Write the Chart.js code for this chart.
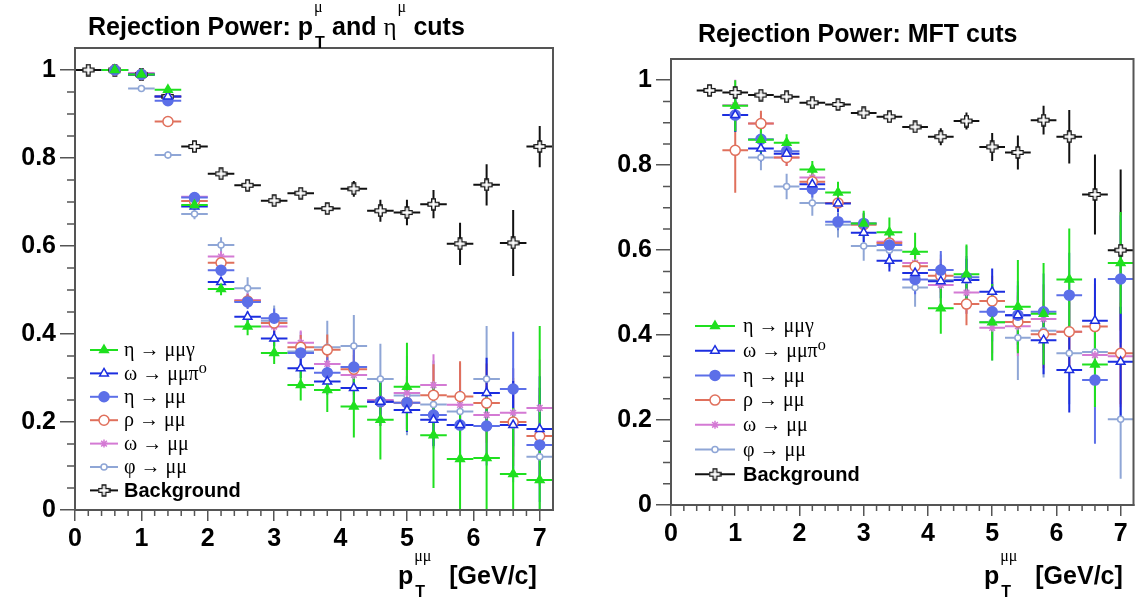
<!DOCTYPE html>
<html>
<head>
<meta charset="utf-8">
<script src="https://cdn.jsdelivr.net/npm/chart.js@4.4.1/dist/chart.umd.min.js"></script>
<style>
  body { margin: 0; background: #fff; width: 1141px; height: 600px; position: relative; overflow: hidden;
         font-family: "Liberation Sans", Arial, sans-serif; }
  canvas { position: absolute; top: 0; }
  .txt { position: absolute; font-weight: bold; font-size: 25px; line-height: 30px; color: #000; white-space: nowrap; }
  .gr { font-family: "Liberation Serif", "DejaVu Serif", serif; font-weight: normal; }
  .stk { display: inline-block; position: relative; height: 0; vertical-align: baseline; }
  .stk .up { position: absolute; left: 1px; bottom: 20px; font-family: "Liberation Serif", serif; font-weight: normal; font-size: 16px; line-height: 1; }
  .stk .dn { position: absolute; left: 2px; top: 0px; font-size: 16px; line-height: 1; }
</style>
</head>
<body>
<canvas id="left" width="570" height="600" style="left:0"></canvas>
<canvas id="right" width="571" height="600" style="left:570px"></canvas>

<div class="txt" style="left:88px; top:11px">Rejection Power: p<span class="stk" style="width:12px"><span class="up">μ</span><span class="dn">T</span></span> and <span class="gr">η</span><span class="stk" style="width:10px"><span class="up">μ</span></span> cuts</div>
<div class="txt" style="left:698px; top:18px">Rejection Power: MFT cuts</div>

<div class="txt" style="left:398px; top:560px">p<span class="stk" style="width:22px"><span class="up">μμ</span><span class="dn">T</span></span><span style="margin-left:14px">[GeV/c]</span></div>
<div class="txt" style="left:984px; top:560px">p<span class="stk" style="width:22px"><span class="up">μμ</span><span class="dn">T</span></span><span style="margin-left:14px">[GeV/c]</span></div>

<script>
// bin centres (half width 0.2)
const X_LEFT = [0.2, 0.6, 1.0, 1.4, 1.8, 2.2, 2.6, 3.0, 3.4, 3.8, 4.2, 4.6, 5.0, 5.4, 5.8, 6.2, 6.6, 7.0];
const X_RIGHT = [0.6, 1.0, 1.4, 1.8, 2.2, 2.6, 3.0, 3.4, 3.8, 4.2, 4.6, 5.0, 5.4, 5.8, 6.2, 6.6, 7.0];
const BIN_HALF = 0.2;

const X_TICKS = [0, 1, 2, 3, 4, 5, 6, 7];
const Y_TICKS = [0, 0.2, 0.4, 0.6, 0.8, 1.0];
const Y_TICK_LABELS = ['0', '0.2', '0.4', '0.6', '0.8', '1'];

const LABELS = ['η → μμγ', 'ω → μμπ⁰', 'η → μμ', 'ρ → μμ', 'ω → μμ', 'φ → μμ', 'Background'];

// left panel: pT and eta cuts
const L_etaG     = [null, 1.0, 0.99, 0.955, 0.693, 0.502, 0.417, 0.357, 0.284, 0.273, 0.235, 0.205, 0.28, 0.17, 0.116, 0.118, 0.082, 0.068];
const L_etaG_e   = [null, 0.002, 0.004, 0.006, 0.01, 0.014, 0.02, 0.025, 0.035, 0.05, 0.07, 0.09, 0.1, 0.12, 0.13, 0.14, 0.15, 0.35];
const L_omPi     = [null, 1.0, 0.99, 0.94, 0.69, 0.518, 0.439, 0.39, 0.322, 0.292, 0.277, 0.246, 0.227, 0.205, 0.193, 0.266, 0.193, 0.184];
const L_omPi_e   = [null, 0.002, 0.003, 0.004, 0.006, 0.01, 0.012, 0.018, 0.022, 0.03, 0.035, 0.045, 0.05, 0.06, 0.07, 0.08, 0.1, 0.12];
const L_etaMM    = [null, 1.0, 0.99, 0.93, 0.71, 0.545, 0.473, 0.436, 0.357, 0.312, 0.325, 0.246, 0.244, 0.216, 0.193, 0.191, 0.275, 0.148];
const L_etaMM_e  = [null, 0.002, 0.004, 0.005, 0.008, 0.012, 0.016, 0.022, 0.028, 0.035, 0.045, 0.055, 0.06, 0.07, 0.08, 0.09, 0.13, 0.13];
const L_rho      = [null, 1.0, 0.99, 0.883, 0.702, 0.562, 0.475, 0.425, 0.37, 0.364, 0.32, 0.246, 0.244, 0.261, 0.258, 0.243, 0.2, 0.168];
const L_rho_e    = [null, 0.002, 0.004, 0.006, 0.008, 0.012, 0.016, 0.022, 0.028, 0.035, 0.045, 0.055, 0.06, 0.07, 0.08, 0.09, 0.1, 0.11];
const L_omMM     = [null, 1.0, 0.993, 0.94, 0.712, 0.576, 0.477, 0.417, 0.38, 0.332, 0.307, 0.25, 0.266, 0.284, 0.239, 0.216, 0.221, 0.232];
const L_omMM_e   = [null, 0.002, 0.004, 0.006, 0.008, 0.012, 0.016, 0.022, 0.028, 0.035, 0.045, 0.055, 0.06, 0.07, 0.08, 0.09, 0.1, 0.11];
const L_phi      = [null, 1.0, 0.958, 0.807, 0.673, 0.602, 0.504, 0.43, 0.36, 0.37, 0.373, 0.298, 0.26, 0.24, 0.224, 0.298, 0.193, 0.121];
const L_phi_e    = [null, 0.003, 0.005, 0.008, 0.012, 0.018, 0.025, 0.035, 0.045, 0.06, 0.07, 0.08, 0.09, 0.1, 0.11, 0.12, 0.13, 0.14];
const L_bg       = [1.0, 1.0, 0.99, 0.94, 0.826, 0.764, 0.738, 0.703, 0.72, 0.685, 0.73, 0.68, 0.676, 0.695, 0.605, 0.739, 0.607, 0.826];
const L_bg_e     = [0.003, 0.003, 0.004, 0.005, 0.006, 0.007, 0.008, 0.009, 0.01, 0.012, 0.018, 0.025, 0.029, 0.032, 0.048, 0.047, 0.075, 0.047];

// right panel: MFT cuts
const R_etaG     = [null, 0.94, 0.86, 0.853, 0.79, 0.736, 0.663, 0.642, 0.596, 0.463, 0.543, 0.43, 0.467, 0.45, 0.531, 0.331, 0.57];
const R_etaG_e   = [null, 0.06, 0.03, 0.02, 0.02, 0.025, 0.03, 0.035, 0.045, 0.06, 0.07, 0.09, 0.11, 0.12, 0.12, 0.1, 0.12];
const R_omPi     = [null, 0.918, 0.839, 0.827, 0.755, 0.71, 0.641, 0.575, 0.546, 0.527, 0.53, 0.502, 0.447, 0.388, 0.318, 0.434, 0.337];
const R_omPi_e   = [null, 0.04, 0.03, 0.02, 0.02, 0.02, 0.022, 0.025, 0.03, 0.04, 0.05, 0.055, 0.07, 0.08, 0.1, 0.1, 0.13];
const R_etaMM    = [null, 0.918, 0.861, 0.833, 0.744, 0.667, 0.663, 0.612, 0.531, 0.553, 0.536, 0.455, 0.447, 0.455, 0.494, 0.294, 0.532];
const R_etaMM_e  = [null, 0.04, 0.03, 0.02, 0.02, 0.02, 0.025, 0.03, 0.035, 0.045, 0.05, 0.07, 0.08, 0.09, 0.1, 0.15, 0.15];
const R_rho      = [null, 0.835, 0.898, 0.818, 0.761, 0.711, 0.66, 0.617, 0.562, 0.54, 0.473, 0.48, 0.431, 0.402, 0.408, 0.42, 0.357];
const R_rho_e    = [null, 0.1, 0.03, 0.02, 0.02, 0.02, 0.025, 0.03, 0.035, 0.04, 0.05, 0.06, 0.07, 0.08, 0.09, 0.1, 0.12];
const R_omMM     = [null, 0.941, 0.898, 0.818, 0.771, 0.711, 0.663, 0.62, 0.57, 0.518, 0.5, 0.417, 0.421, 0.438, 0.408, 0.353, 0.35];
const R_omMM_e   = [null, 0.06, 0.025, 0.02, 0.02, 0.02, 0.025, 0.03, 0.035, 0.04, 0.05, 0.06, 0.07, 0.08, 0.09, 0.1, 0.12];
const R_phi      = [null, 0.918, 0.818, 0.75, 0.711, 0.66, 0.61, 0.6, 0.512, 0.53, 0.53, 0.43, 0.394, 0.41, 0.357, 0.36, 0.202];
const R_phi_e    = [null, 0.04, 0.03, 0.03, 0.03, 0.03, 0.035, 0.04, 0.045, 0.06, 0.08, 0.09, 0.1, 0.11, 0.12, 0.13, 0.14];
const R_bg       = [0.976, 0.971, 0.965, 0.961, 0.947, 0.943, 0.923, 0.914, 0.89, 0.867, 0.904, 0.843, 0.83, 0.906, 0.867, 0.731, 0.6];
const R_bg_e     = [0.004, 0.005, 0.005, 0.006, 0.007, 0.007, 0.008, 0.01, 0.012, 0.02, 0.02, 0.033, 0.04, 0.034, 0.063, 0.094, 0.19];

// open cross marker used for the background histogram
function openCross() {
    const c = document.createElement('canvas');
    c.width = 13; c.height = 13;
    const g = c.getContext('2d');
    const m = 6.5, a = 1.8, e = 5.5;
    g.beginPath();
    g.moveTo(m - a, m - e); g.lineTo(m + a, m - e); g.lineTo(m + a, m - a); g.lineTo(m + e, m - a);
    g.lineTo(m + e, m + a); g.lineTo(m + a, m + a); g.lineTo(m + a, m + e); g.lineTo(m - a, m + e);
    g.lineTo(m - a, m + a); g.lineTo(m - e, m + a); g.lineTo(m - e, m - a); g.lineTo(m - a, m - a);
    g.closePath();
    g.fillStyle = '#fff'; g.fill();
    g.strokeStyle = '#111'; g.lineWidth = 1.3; g.stroke();
    return c;
}
const CROSS = openCross();

const STYLES = [
    { color: '#1fe01f', fill: '#1fe01f', pointStyle: 'triangle', radius: 5 },
    { color: '#1c2ee0', fill: '#ffffff', pointStyle: 'triangle', radius: 5 },
    { color: '#5c6fe8', fill: '#5c6fe8', pointStyle: 'circle', radius: 5 },
    { color: '#e0705c', fill: '#ffffff', pointStyle: 'circle', radius: 5 },
    { color: '#d47ad4', fill: '#d47ad4', pointStyle: 'star', radius: 4 },
    { color: '#8fa6d6', fill: '#ffffff', pointStyle: 'circle', radius: 3 },
    { color: '#111111', fill: '#ffffff', pointStyle: CROSS, radius: 6 }
];

function makeDatasets(xs, series, errors) {
    return series.map((vals, i) => {
        const s = STYLES[i];
        return {
            label: LABELS[i],
            data: xs.map((x, j) => ({ x: x, y: vals[j], e: errors[i][j] })).filter(p => p.y != null),
            showLine: false,
            borderColor: s.color,
            backgroundColor: s.fill,
            pointStyle: s.pointStyle,
            pointRadius: s.radius,
            pointBorderWidth: 1.5,
            borderWidth: 1.5
        };
    });
}

// ROOT-style error crosses, drawn under the markers
const errorBars = {
    id: 'errorBars',
    beforeDatasetsDraw(chart) {
        const { ctx, chartArea: a, scales: { x, y } } = chart;
        ctx.save();
        ctx.beginPath();
        ctx.rect(a.left, a.top, a.width, a.height);
        ctx.clip();
        ctx.lineWidth = 2;
        for (let i = chart.data.datasets.length - 1; i >= 0; i--) {
            const ds = chart.data.datasets[i];
            ctx.strokeStyle = ds.borderColor;
            ds.data.forEach(p => {
                const px = x.getPixelForValue(p.x);
                const py = y.getPixelForValue(p.y);
                ctx.beginPath();
                ctx.moveTo(x.getPixelForValue(p.x - BIN_HALF), py);
                ctx.lineTo(x.getPixelForValue(p.x + BIN_HALF), py);
                ctx.moveTo(px, y.getPixelForValue(p.y - p.e));
                ctx.lineTo(px, y.getPixelForValue(p.y + p.e));
                ctx.stroke();
            });
        }
        ctx.restore();
    }
};

// frame and minor ticks
const frame = {
    id: 'frame',
    afterDatasetsDraw(chart) {
        const { ctx, chartArea: a, scales: { x, y } } = chart;
        ctx.save();
        ctx.strokeStyle = '#555';
        ctx.lineWidth = 1.5;
        ctx.beginPath();
        for (let k = 1; k < 36; k++) {
            if (k % 5 === 0) continue;
            const px = x.getPixelForValue(k * 0.2);
            ctx.moveTo(px, a.bottom);
            ctx.lineTo(px, a.bottom + 6);
        }
        for (let k = 1; k < 21; k++) {
            if (k % 4 === 0) continue;
            const py = y.getPixelForValue(k * 0.05);
            ctx.moveTo(a.left - 8, py);
            ctx.lineTo(a.left, py);
        }
        ctx.stroke();
        ctx.lineWidth = 2;
        ctx.strokeRect(a.left, a.top, a.width, a.height);
        ctx.restore();
    }
};

// legend inside the frame
const boxLegend = {
    id: 'boxLegend',
    afterDraw(chart, args, opts) {
        const ctx = chart.ctx;
        chart.data.datasets.forEach((ds, i) => {
            const y = opts.top + i * opts.step;
            ctx.save();
            ctx.strokeStyle = ds.borderColor;
            ctx.lineWidth = 2;
            ctx.beginPath();
            ctx.moveTo(opts.left, y);
            ctx.lineTo(opts.left + opts.lineLen, y);
            ctx.stroke();
            ctx.fillStyle = ds.backgroundColor;
            ctx.lineWidth = ds.pointBorderWidth;
            Chart.helpers.drawPoint(ctx, {
                pointStyle: ds.pointStyle, radius: ds.pointRadius, rotation: 0, borderWidth: ds.pointBorderWidth
            }, opts.left + opts.lineLen / 2, y);
            ctx.fillStyle = '#000';
            ctx.textBaseline = 'middle';
            ctx.font = ds.label === 'Background' ? 'bold 20px "Liberation Sans", Arial' : '20px "Liberation Serif", "DejaVu Serif", serif';
            ctx.fillText(ds.label, opts.left + opts.lineLen + opts.gap, y + 1);
            ctx.restore();
        });
    }
};

function makeChart(id, xs, series, errors, geo) {
    return new Chart(document.getElementById(id), {
        type: 'scatter',
        data: { datasets: makeDatasets(xs, series, errors) },
        plugins: [errorBars, frame, boxLegend],
        options: {
            responsive: false,
            devicePixelRatio: 1,
            animation: false,
            events: [],
            layout: { padding: { top: geo.top, right: geo.right, left: 0, bottom: 0 } },
            plugins: {
                legend: { display: false },
                tooltip: { enabled: false },
                boxLegend: geo.legend
            },
            scales: {
                x: {
                    type: 'linear', min: 0, max: 7.2,
                    afterBuildTicks: s => { s.ticks = X_TICKS.map(v => ({ value: v })); },
                    afterFit: s => { s.height = geo.xHeight; },
                    grid: { drawOnChartArea: false, drawTicks: true, tickLength: 11, color: '#555', lineWidth: 1.5 },
                    border: { display: true, color: '#555', width: 2 },
                    ticks: {
                        autoSkip: false, maxRotation: 0, padding: 3, color: '#000',
                        font: { family: '"Liberation Sans", Arial', weight: 'bold', size: 25 },
                        callback: v => String(v)
                    }
                },
                y: {
                    type: 'linear', min: 0, max: 1.05,
                    afterBuildTicks: s => { s.ticks = Y_TICKS.map(v => ({ value: v })); },
                    afterFit: s => { s.width = geo.yWidth; },
                    grid: { drawOnChartArea: false, drawTicks: true, tickLength: 15, color: '#555', lineWidth: 1.5 },
                    border: { display: true, color: '#555', width: 2 },
                    ticks: {
                        autoSkip: false, padding: 4, color: '#000',
                        font: { family: '"Liberation Sans", Arial', weight: 'bold', size: 25 },
                        callback: (v, i) => Y_TICK_LABELS[i]
                    }
                }
            }
        }
    });
}

makeChart('left', X_LEFT,
    [L_etaG, L_omPi, L_etaMM, L_rho, L_omMM, L_phi, L_bg],
    [L_etaG_e, L_omPi_e, L_etaMM_e, L_rho_e, L_omMM_e, L_phi_e, L_bg_e],
    { top: 48, right: 17, yWidth: 75, xHeight: 90,
      legend: { left: 90, top: 350, step: 23.4, lineLen: 28, gap: 6 } });

makeChart('right', X_RIGHT,
    [R_etaG, R_omPi, R_etaMM, R_rho, R_omMM, R_phi, R_bg],
    [R_etaG_e, R_omPi_e, R_etaMM_e, R_rho_e, R_omMM_e, R_phi_e, R_bg_e],
    { top: 59, right: 6, yWidth: 101, xHeight: 95,
      legend: { left: 125, top: 326, step: 24.7, lineLen: 40, gap: 8 } });
</script>
</body>
</html>
